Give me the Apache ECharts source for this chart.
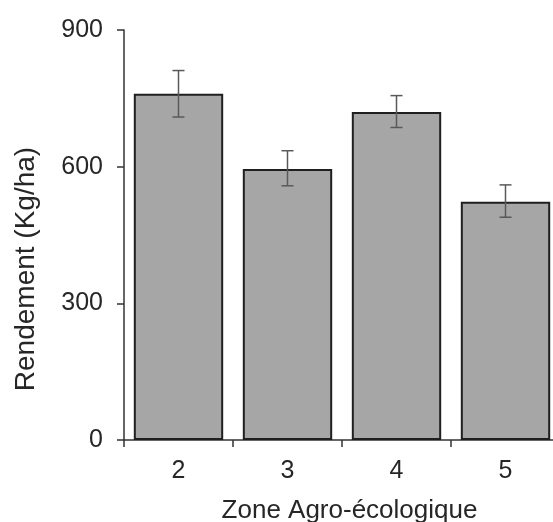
<!DOCTYPE html>
<html>
<head>
<meta charset="utf-8">
<script src="https://cdn.jsdelivr.net/npm/echarts@6/dist/echarts.min.js"></script>
<style>
html,body{margin:0;padding:0;background:#fff;width:553px;height:522px;overflow:hidden;}
#chart{width:553px;height:522px;overflow:hidden;}
</style>
</head>
<body>
<div id="chart"></div>
<script>
const categories = ['2', '3', '4', '5'];
const yieldMean = [760, 595, 720, 523];
const errLow = [709, 558, 686, 489];
const errHigh = [811, 635, 756, 560];
const yTicks = [0, 300, 600, 900];

const FONT = '"Liberation Sans", Arial, sans-serif';
const chart = echarts.init(document.getElementById('chart'), null, {renderer: 'canvas', width: 553, height: 522});

const errData = categories.map((c, i) => [i, errLow[i], errHigh[i]]);

chart.setOption({
  animation: false,
  backgroundColor: '#ffffff',
  grid: {left: 124, width: 436, top: 30, height: 410, containLabel: false, outerBoundsMode: 'none'},
  xAxis: {
    type: 'category',
    data: categories,
    name: 'Zone Agro-écologique',
    nameLocation: 'middle',
    nameGap: 58,
    nameTextStyle: {fontFamily: FONT, fontSize: 26, color: '#262626', padding: [0, 0, 0, 15]},
    axisLine: {show: true, lineStyle: {color: '#333333', width: 1.5}},
    axisTick: {show: true, length: 7, inside: false, lineStyle: {color: '#333333', width: 1.5}},
    axisLabel: {fontFamily: FONT, fontSize: 25, color: '#262626', margin: 19},
    splitLine: {show: false}
  },
  yAxis: {
    type: 'value',
    min: yTicks[0],
    max: yTicks[yTicks.length - 1],
    interval: 300,
    name: 'Rendement (Kg/ha)',
    nameLocation: 'middle',
    nameGap: 84,
    nameTextStyle: {fontFamily: FONT, fontSize: 28, color: '#262626', padding: [0, 68, 0, 0]},
    axisLine: {show: true, lineStyle: {color: '#333333', width: 1.5}},
    axisTick: {show: true, length: 7, inside: false, lineStyle: {color: '#333333', width: 1.5}},
    axisLabel: {fontFamily: FONT, fontSize: 25, color: '#262626', margin: 21},
    splitLine: {show: false}
  },
  series: [
    {
      type: 'bar',
      data: yieldMean,
      barCategoryGap: '18%',
      itemStyle: {color: '#a6a6a6', borderColor: '#1f1f1f', borderWidth: 2}
    },
    {
      type: 'custom',
      data: errData,
      z: 10,
      renderItem: function (params, api) {
        const x = api.value(0);
        const lo = api.coord([x, api.value(1)]);
        const hi = api.coord([x, api.value(2)]);
        const hw = 6;
        const style = {stroke: '#595959', lineWidth: 1.5};
        return {
          type: 'group',
          children: [
            {type: 'line', shape: {x1: lo[0], y1: lo[1], x2: hi[0], y2: hi[1]}, style: style},
            {type: 'line', shape: {x1: hi[0] - hw, y1: hi[1], x2: hi[0] + hw, y2: hi[1]}, style: style},
            {type: 'line', shape: {x1: lo[0] - hw, y1: lo[1], x2: lo[0] + hw, y2: lo[1]}, style: style}
          ]
        };
      }
    }
  ]
});
</script>
</body>
</html>
